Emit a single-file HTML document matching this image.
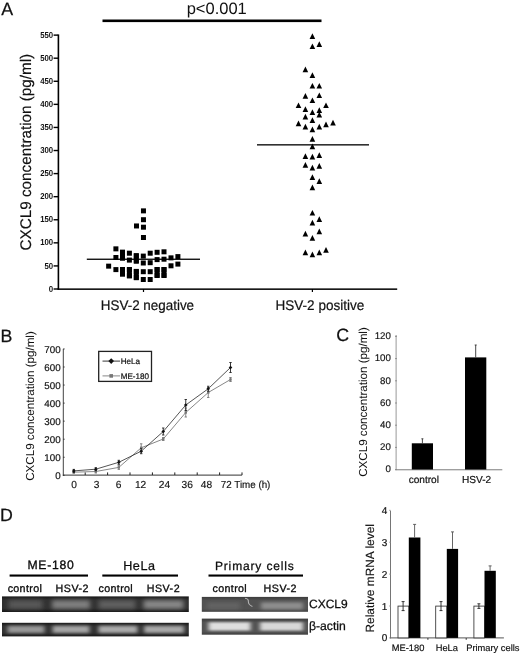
<!DOCTYPE html>
<html><head><meta charset="utf-8"><title>Figure</title>
<style>
html,body{margin:0;padding:0;background:#fff;}
svg{display:block;font-family:"Liberation Sans", sans-serif;fill:#111;text-rendering:geometricPrecision;}
</style></head><body>
<svg width="520" height="655" viewBox="0 0 520 655">
<rect width="520" height="655" fill="#fff"/>
<text x="1.2" y="14.8" font-size="17.8" stroke="#111" stroke-width="0.25">A</text>
<rect x="102.5" y="19.5" width="219" height="2.6" fill="#000"/>
<text x="216.7" y="13.9" font-size="16.5" text-anchor="middle">p&lt;0.001</text>
<rect x="57.6" y="34.4" width="1.6" height="255.3" fill="#000"/>
<rect x="57.6" y="288.4" width="339.6" height="1.5" fill="#000"/>
<rect x="53.6" y="288.30" width="4.5" height="1.4" fill="#000"/>
<text x="53.2" y="291.65" font-size="8.7" font-weight="bold" text-anchor="end" textLength="4.4" lengthAdjust="spacingAndGlyphs">0</text>
<rect x="53.6" y="265.22" width="4.5" height="1.4" fill="#000"/>
<text x="53.2" y="268.57" font-size="8.7" font-weight="bold" text-anchor="end" textLength="8.7" lengthAdjust="spacingAndGlyphs">50</text>
<rect x="53.6" y="242.14" width="4.5" height="1.4" fill="#000"/>
<text x="53.2" y="245.49" font-size="8.7" font-weight="bold" text-anchor="end" textLength="13" lengthAdjust="spacingAndGlyphs">100</text>
<rect x="53.6" y="219.06" width="4.5" height="1.4" fill="#000"/>
<text x="53.2" y="222.41" font-size="8.7" font-weight="bold" text-anchor="end" textLength="13" lengthAdjust="spacingAndGlyphs">150</text>
<rect x="53.6" y="195.98" width="4.5" height="1.4" fill="#000"/>
<text x="53.2" y="199.33" font-size="8.7" font-weight="bold" text-anchor="end" textLength="13" lengthAdjust="spacingAndGlyphs">200</text>
<rect x="53.6" y="172.90" width="4.5" height="1.4" fill="#000"/>
<text x="53.2" y="176.25" font-size="8.7" font-weight="bold" text-anchor="end" textLength="13" lengthAdjust="spacingAndGlyphs">250</text>
<rect x="53.6" y="149.82" width="4.5" height="1.4" fill="#000"/>
<text x="53.2" y="153.17" font-size="8.7" font-weight="bold" text-anchor="end" textLength="13" lengthAdjust="spacingAndGlyphs">300</text>
<rect x="53.6" y="126.74" width="4.5" height="1.4" fill="#000"/>
<text x="53.2" y="130.09" font-size="8.7" font-weight="bold" text-anchor="end" textLength="13" lengthAdjust="spacingAndGlyphs">350</text>
<rect x="53.6" y="103.66" width="4.5" height="1.4" fill="#000"/>
<text x="53.2" y="107.01" font-size="8.7" font-weight="bold" text-anchor="end" textLength="13" lengthAdjust="spacingAndGlyphs">400</text>
<rect x="53.6" y="80.58" width="4.5" height="1.4" fill="#000"/>
<text x="53.2" y="83.93" font-size="8.7" font-weight="bold" text-anchor="end" textLength="13" lengthAdjust="spacingAndGlyphs">450</text>
<rect x="53.6" y="57.50" width="4.5" height="1.4" fill="#000"/>
<text x="53.2" y="60.85" font-size="8.7" font-weight="bold" text-anchor="end" textLength="13" lengthAdjust="spacingAndGlyphs">500</text>
<rect x="53.6" y="34.42" width="4.5" height="1.4" fill="#000"/>
<text x="53.2" y="37.77" font-size="8.7" font-weight="bold" text-anchor="end" textLength="13" lengthAdjust="spacingAndGlyphs">550</text>
<rect x="142.9" y="289" width="1.2" height="3" fill="#000"/>
<rect x="311.79999999999995" y="289" width="1.2" height="3" fill="#000"/>
<text x="100.8" y="309.5" font-size="14" textLength="93.3" lengthAdjust="spacingAndGlyphs" stroke="#111" stroke-width="0.2">HSV-2 negative</text>
<text x="275.5" y="309.5" font-size="14" textLength="88.8" lengthAdjust="spacingAndGlyphs" stroke="#111" stroke-width="0.2">HSV-2 positive</text>
<text transform="translate(31.4,250.4) rotate(-90)" font-size="15.4" textLength="196.6" lengthAdjust="spacingAndGlyphs" stroke="#111" stroke-width="0.15">CXCL9 concentration (pg/ml)</text>
<rect x="86.8" y="258.6" width="113.2" height="1.3" fill="#000"/>
<rect x="257" y="144.2" width="112" height="1.3" fill="#000"/>
<rect x="106.15" y="263.65" width="5" height="5" fill="#000"/>
<rect x="113.40" y="246.35" width="5" height="5" fill="#000"/>
<rect x="113.40" y="255.00" width="5" height="5" fill="#000"/>
<rect x="113.40" y="267.10" width="5" height="5" fill="#000"/>
<rect x="120.00" y="249.80" width="5" height="5" fill="#000"/>
<rect x="120.00" y="255.35" width="5" height="5" fill="#000"/>
<rect x="120.00" y="267.10" width="5" height="5" fill="#000"/>
<rect x="120.00" y="271.40" width="5" height="5" fill="#000"/>
<rect x="126.90" y="250.70" width="5" height="5" fill="#000"/>
<rect x="126.90" y="257.60" width="5" height="5" fill="#000"/>
<rect x="126.90" y="267.10" width="5" height="5" fill="#000"/>
<rect x="126.90" y="273.20" width="5" height="5" fill="#000"/>
<rect x="133.80" y="253.30" width="5" height="5" fill="#000"/>
<rect x="133.80" y="258.50" width="5" height="5" fill="#000"/>
<rect x="133.80" y="269.20" width="5" height="5" fill="#000"/>
<rect x="133.80" y="274.90" width="5" height="5" fill="#000"/>
<rect x="140.80" y="253.60" width="5" height="5" fill="#000"/>
<rect x="140.80" y="260.50" width="5" height="5" fill="#000"/>
<rect x="140.80" y="269.20" width="5" height="5" fill="#000"/>
<rect x="140.80" y="277.00" width="5" height="5" fill="#000"/>
<rect x="147.70" y="250.70" width="5" height="5" fill="#000"/>
<rect x="147.70" y="260.20" width="5" height="5" fill="#000"/>
<rect x="147.70" y="269.20" width="5" height="5" fill="#000"/>
<rect x="147.70" y="277.00" width="5" height="5" fill="#000"/>
<rect x="154.60" y="249.80" width="5" height="5" fill="#000"/>
<rect x="154.60" y="257.10" width="5" height="5" fill="#000"/>
<rect x="154.60" y="267.10" width="5" height="5" fill="#000"/>
<rect x="154.60" y="272.70" width="5" height="5" fill="#000"/>
<rect x="161.50" y="249.30" width="5" height="5" fill="#000"/>
<rect x="161.50" y="256.70" width="5" height="5" fill="#000"/>
<rect x="161.50" y="267.10" width="5" height="5" fill="#000"/>
<rect x="161.50" y="272.70" width="5" height="5" fill="#000"/>
<rect x="168.50" y="255.35" width="5" height="5" fill="#000"/>
<rect x="168.50" y="263.30" width="5" height="5" fill="#000"/>
<rect x="175.40" y="254.10" width="5" height="5" fill="#000"/>
<rect x="175.40" y="261.60" width="5" height="5" fill="#000"/>
<rect x="140.96" y="208.37" width="5" height="5" fill="#000"/>
<rect x="140.96" y="217.20" width="5" height="5" fill="#000"/>
<rect x="140.96" y="224.70" width="5" height="5" fill="#000"/>
<rect x="140.96" y="235.00" width="5" height="5" fill="#000"/>
<rect x="134.00" y="223.46" width="5" height="5" fill="#000"/>
<rect x="120.00" y="267.00" width="5" height="9.50" fill="#000"/>
<rect x="126.90" y="267.00" width="5" height="11.30" fill="#000"/>
<rect x="133.80" y="268.90" width="5" height="11.30" fill="#000"/>
<rect x="154.60" y="267.00" width="5" height="11.00" fill="#000"/>
<rect x="161.50" y="267.00" width="5" height="11.00" fill="#000"/>
<rect x="120.00" y="249.80" width="5" height="10.80" fill="#000"/>
<rect x="133.80" y="253.30" width="5" height="10.20" fill="#000"/>
<path d="M312.4 33.3L315.2 39.0L309.6 39.0Z" fill="#000"/>
<path d="M312.4 43.4L315.2 49.1L309.6 49.1Z" fill="#000"/>
<path d="M319.3 41.2L322.1 46.9L316.5 46.9Z" fill="#000"/>
<path d="M305.4 66.6L308.2 72.3L302.6 72.3Z" fill="#000"/>
<path d="M312.4 72.2L315.2 77.9L309.6 77.9Z" fill="#000"/>
<path d="M312.4 82.9L315.2 88.6L309.6 88.6Z" fill="#000"/>
<path d="M319.3 82.9L322.1 88.6L316.5 88.6Z" fill="#000"/>
<path d="M305.4 93.0L308.2 98.7L302.6 98.7Z" fill="#000"/>
<path d="M319.3 92.4L322.1 98.1L316.5 98.1Z" fill="#000"/>
<path d="M312.4 97.4L315.2 103.1L309.6 103.1Z" fill="#000"/>
<path d="M298.5 102.4L301.3 108.1L295.7 108.1Z" fill="#000"/>
<path d="M326.0 102.4L328.8 108.1L323.2 108.1Z" fill="#000"/>
<path d="M305.4 106.3L308.2 112.0L302.6 112.0Z" fill="#000"/>
<path d="M319.3 107.3L322.1 113.0L316.5 113.0Z" fill="#000"/>
<path d="M312.4 109.3L315.2 115.0L309.6 115.0Z" fill="#000"/>
<path d="M319.3 111.7L322.1 117.4L316.5 117.4Z" fill="#000"/>
<path d="M305.4 113.7L308.2 119.4L302.6 119.4Z" fill="#000"/>
<path d="M312.4 117.2L315.2 122.9L309.6 122.9Z" fill="#000"/>
<path d="M298.5 120.6L301.3 126.3L295.7 126.3Z" fill="#000"/>
<path d="M333.0 119.8L335.8 125.5L330.2 125.5Z" fill="#000"/>
<path d="M326.0 121.6L328.8 127.3L323.2 127.3Z" fill="#000"/>
<path d="M305.4 123.8L308.2 129.5L302.6 129.5Z" fill="#000"/>
<path d="M319.3 123.8L322.1 129.5L316.5 129.5Z" fill="#000"/>
<path d="M312.4 126.6L315.2 132.3L309.6 132.3Z" fill="#000"/>
<path d="M312.4 136.1L315.2 141.8L309.6 141.8Z" fill="#000"/>
<path d="M312.4 143.6L315.2 149.3L309.6 149.3Z" fill="#000"/>
<path d="M305.4 153.2L308.2 158.9L302.6 158.9Z" fill="#000"/>
<path d="M312.4 153.8L315.2 159.5L309.6 159.5Z" fill="#000"/>
<path d="M319.3 152.2L322.1 157.9L316.5 157.9Z" fill="#000"/>
<path d="M305.4 162.1L308.2 167.8L302.6 167.8Z" fill="#000"/>
<path d="M312.4 164.7L315.2 170.4L309.6 170.4Z" fill="#000"/>
<path d="M319.3 163.1L322.1 168.8L316.5 168.8Z" fill="#000"/>
<path d="M312.4 174.2L315.2 179.9L309.6 179.9Z" fill="#000"/>
<path d="M319.3 178.2L322.1 183.9L316.5 183.9Z" fill="#000"/>
<path d="M312.4 184.5L315.2 190.2L309.6 190.2Z" fill="#000"/>
<path d="M312.4 209.9L315.2 215.6L309.6 215.6Z" fill="#000"/>
<path d="M319.3 216.3L322.1 222.0L316.5 222.0Z" fill="#000"/>
<path d="M312.4 219.7L315.2 225.4L309.6 225.4Z" fill="#000"/>
<path d="M319.3 228.6L322.1 234.3L316.5 234.3Z" fill="#000"/>
<path d="M305.4 230.8L308.2 236.5L302.6 236.5Z" fill="#000"/>
<path d="M312.4 235.1L315.2 240.8L309.6 240.8Z" fill="#000"/>
<path d="M305.4 249.6L308.2 255.3L302.6 255.3Z" fill="#000"/>
<path d="M312.4 251.6L315.2 257.3L309.6 257.3Z" fill="#000"/>
<path d="M319.3 249.6L322.1 255.3L316.5 255.3Z" fill="#000"/>
<path d="M326.0 247.0L328.8 252.7L323.2 252.7Z" fill="#000"/>
<text x="0.4" y="341.9" font-size="17.8" stroke="#111" stroke-width="0.25">B</text>
<text transform="translate(33.6,406) rotate(-90)" font-size="11.6" text-anchor="middle">CXCL9 concentration (pg/ml)</text>
<rect x="62.8" y="348.9" width="1" height="127" fill="#444"/>
<rect x="62.8" y="474.6" width="179.3" height="1" fill="#333"/>
<rect x="63.2" y="474.80" width="1.4" height="1" fill="#333"/>
<text x="60.6" y="478.90" font-size="9.8" text-anchor="end" stroke="#111" stroke-width="0.18">0</text>
<rect x="63.2" y="456.75" width="1.4" height="1" fill="#333"/>
<text x="60.6" y="460.85" font-size="9.8" text-anchor="end" stroke="#111" stroke-width="0.18">100</text>
<rect x="63.2" y="438.70" width="1.4" height="1" fill="#333"/>
<text x="60.6" y="442.80" font-size="9.8" text-anchor="end" stroke="#111" stroke-width="0.18">200</text>
<rect x="63.2" y="420.65" width="1.4" height="1" fill="#333"/>
<text x="60.6" y="424.75" font-size="9.8" text-anchor="end" stroke="#111" stroke-width="0.18">300</text>
<rect x="63.2" y="402.60" width="1.4" height="1" fill="#333"/>
<text x="60.6" y="406.70" font-size="9.8" text-anchor="end" stroke="#111" stroke-width="0.18">400</text>
<rect x="63.2" y="384.55" width="1.4" height="1" fill="#333"/>
<text x="60.6" y="388.65" font-size="9.8" text-anchor="end" stroke="#111" stroke-width="0.18">500</text>
<rect x="63.2" y="366.50" width="1.4" height="1" fill="#333"/>
<text x="60.6" y="370.60" font-size="9.8" text-anchor="end" stroke="#111" stroke-width="0.18">600</text>
<rect x="63.2" y="348.45" width="1.4" height="1" fill="#333"/>
<text x="60.6" y="352.55" font-size="9.8" text-anchor="end" stroke="#111" stroke-width="0.18">700</text>
<rect x="84.70" y="472.4" width="1" height="2.6" fill="#222"/>
<rect x="107.10" y="472.4" width="1" height="2.6" fill="#222"/>
<rect x="129.50" y="472.4" width="1" height="2.6" fill="#222"/>
<rect x="151.90" y="472.4" width="1" height="2.6" fill="#222"/>
<rect x="174.30" y="472.4" width="1" height="2.6" fill="#222"/>
<rect x="196.70" y="472.4" width="1" height="2.6" fill="#222"/>
<rect x="219.10" y="472.4" width="1" height="2.6" fill="#222"/>
<rect x="241.50" y="472.4" width="1" height="2.6" fill="#222"/>
<text x="74.1" y="488.2" font-size="10.2" text-anchor="middle" stroke="#111" stroke-width="0.15">0</text>
<text x="96.5" y="488.2" font-size="10.2" text-anchor="middle" stroke="#111" stroke-width="0.15">3</text>
<text x="118.5" y="488.2" font-size="10.2" text-anchor="middle" stroke="#111" stroke-width="0.15">6</text>
<text x="140.6" y="488.2" font-size="10.2" text-anchor="middle" stroke="#111" stroke-width="0.15">12</text>
<text x="164.5" y="488.2" font-size="10.2" text-anchor="middle" stroke="#111" stroke-width="0.15">24</text>
<text x="187.2" y="488.2" font-size="10.2" text-anchor="middle" stroke="#111" stroke-width="0.15">36</text>
<text x="206.5" y="488.2" font-size="10.2" text-anchor="middle" stroke="#111" stroke-width="0.15">48</text>
<text x="220.8" y="488.2" font-size="10.2" textLength="49.6" lengthAdjust="spacingAndGlyphs" stroke="#111" stroke-width="0.15">72 Time (h)</text>
<rect x="98.7" y="351.4" width="52.8" height="30" fill="#fff" stroke="#222" stroke-width="1.3"/>
<path d="M102.5 361.1H120" stroke="#222" stroke-width="0.9"/>
<path d="M111.2 358.3l2.8 2.8l-2.8 2.8l-2.8-2.8z" fill="#111"/>
<text x="120.7" y="364.1" font-size="8.1" stroke="#111" stroke-width="0.2">HeLa</text>
<path d="M102.5 375.9H120" stroke="#6a6a6a" stroke-width="0.8"/>
<rect x="109.4" y="374.1" width="3.6" height="3.6" fill="#777"/>
<text x="120.7" y="378.9" font-size="8.1" stroke="#111" stroke-width="0.2">ME-180</text>
<polyline fill="none" stroke="#686868" stroke-width="0.8" points="73.8,472.2 95.8,471.5 118.8,467.4 141.2,447.8 163.25,439 185.75,412.5 208.25,392.5 230.5,379.5"/>
<polyline fill="none" stroke="#2a2a2a" stroke-width="0.8" points="73.8,470.9 95.8,469.2 118.8,462.3 141.2,451.2 163.25,431.5 185.75,405 208.25,388.75 230.5,367.5"/>
<path d="M73.8 471.2V473.2M72.6 471.2h2.4M72.6 473.2h2.4" stroke="#777" stroke-width="0.9" fill="none"/>
<rect x="72.6" y="471.0" width="2.4" height="2.4" fill="#777"/>
<path d="M95.8 470.0V473.0M94.6 470.0h2.4M94.6 473.0h2.4" stroke="#777" stroke-width="0.9" fill="none"/>
<rect x="94.6" y="470.3" width="2.4" height="2.4" fill="#777"/>
<path d="M118.8 465.4V469.4M117.6 465.4h2.4M117.6 469.4h2.4" stroke="#777" stroke-width="0.9" fill="none"/>
<rect x="117.6" y="466.2" width="2.4" height="2.4" fill="#777"/>
<path d="M141.2 443.8V451.8M140.0 443.8h2.4M140.0 451.8h2.4" stroke="#777" stroke-width="0.9" fill="none"/>
<rect x="140.0" y="446.6" width="2.4" height="2.4" fill="#777"/>
<path d="M163.25 437.5V440.5M162.05 437.5h2.4M162.05 440.5h2.4" stroke="#777" stroke-width="0.9" fill="none"/>
<rect x="162.05" y="437.8" width="2.4" height="2.4" fill="#777"/>
<path d="M185.75 408.0V417.0M184.55 408.0h2.4M184.55 417.0h2.4" stroke="#777" stroke-width="0.9" fill="none"/>
<rect x="184.55" y="411.3" width="2.4" height="2.4" fill="#777"/>
<path d="M208.25 387.5V397.5M207.05 387.5h2.4M207.05 397.5h2.4" stroke="#777" stroke-width="0.9" fill="none"/>
<rect x="207.05" y="391.3" width="2.4" height="2.4" fill="#777"/>
<path d="M230.5 377.5V381.5M229.3 377.5h2.4M229.3 381.5h2.4" stroke="#777" stroke-width="0.9" fill="none"/>
<rect x="229.3" y="378.3" width="2.4" height="2.4" fill="#777"/>
<path d="M73.8 469.4V472.4M72.6 469.4h2.4M72.6 472.4h2.4" stroke="#222" stroke-width="0.9" fill="none"/>
<path d="M73.8 469.09999999999997l1.8 1.8l-1.8 1.8l-1.8-1.8z" fill="#111"/>
<path d="M95.8 467.7V470.7M94.6 467.7h2.4M94.6 470.7h2.4" stroke="#222" stroke-width="0.9" fill="none"/>
<path d="M95.8 467.4l1.8 1.8l-1.8 1.8l-1.8-1.8z" fill="#111"/>
<path d="M118.8 460.3V464.3M117.6 460.3h2.4M117.6 464.3h2.4" stroke="#222" stroke-width="0.9" fill="none"/>
<path d="M118.8 460.5l1.8 1.8l-1.8 1.8l-1.8-1.8z" fill="#111"/>
<path d="M141.2 448.7V453.7M140.0 448.7h2.4M140.0 453.7h2.4" stroke="#222" stroke-width="0.9" fill="none"/>
<path d="M141.2 449.4l1.8 1.8l-1.8 1.8l-1.8-1.8z" fill="#111"/>
<path d="M163.25 428.0V435.0M162.05 428.0h2.4M162.05 435.0h2.4" stroke="#222" stroke-width="0.9" fill="none"/>
<path d="M163.25 429.7l1.8 1.8l-1.8 1.8l-1.8-1.8z" fill="#111"/>
<path d="M185.75 399.5V410.5M184.55 399.5h2.4M184.55 410.5h2.4" stroke="#222" stroke-width="0.9" fill="none"/>
<path d="M185.75 403.2l1.8 1.8l-1.8 1.8l-1.8-1.8z" fill="#111"/>
<path d="M208.25 386.25V391.25M207.05 386.25h2.4M207.05 391.25h2.4" stroke="#222" stroke-width="0.9" fill="none"/>
<path d="M208.25 386.95l1.8 1.8l-1.8 1.8l-1.8-1.8z" fill="#111"/>
<path d="M230.5 362.5V372.5M229.3 362.5h2.4M229.3 372.5h2.4" stroke="#222" stroke-width="0.9" fill="none"/>
<path d="M230.5 365.7l1.8 1.8l-1.8 1.8l-1.8-1.8z" fill="#111"/>
<text x="336.3" y="341.1" font-size="17.8" stroke="#111" stroke-width="0.25">C</text>
<text transform="translate(367.3,402) rotate(-90)" font-size="11.6" text-anchor="middle">CXCL9 concentration (pg/ml)</text>
<rect x="395.6" y="335" width="1" height="135" fill="#999"/>
<rect x="395.3" y="469.2" width="107" height="1.1" fill="#888"/>
<rect x="395.1" y="469.10" width="1.8" height="1" fill="#8a8a8a"/>
<text x="390.9" y="472.30" font-size="9.7" text-anchor="end" stroke="#111" stroke-width="0.15">0</text>
<rect x="395.1" y="446.90" width="1.8" height="1" fill="#8a8a8a"/>
<text x="390.9" y="450.10" font-size="9.7" text-anchor="end" stroke="#111" stroke-width="0.15">20</text>
<rect x="395.1" y="424.70" width="1.8" height="1" fill="#8a8a8a"/>
<text x="390.9" y="427.90" font-size="9.7" text-anchor="end" stroke="#111" stroke-width="0.15">40</text>
<rect x="395.1" y="402.50" width="1.8" height="1" fill="#8a8a8a"/>
<text x="390.9" y="405.70" font-size="9.7" text-anchor="end" stroke="#111" stroke-width="0.15">60</text>
<rect x="395.1" y="380.30" width="1.8" height="1" fill="#8a8a8a"/>
<text x="390.9" y="383.50" font-size="9.7" text-anchor="end" stroke="#111" stroke-width="0.15">80</text>
<rect x="395.1" y="358.10" width="1.8" height="1" fill="#8a8a8a"/>
<text x="390.9" y="361.30" font-size="9.7" text-anchor="end" stroke="#111" stroke-width="0.15">100</text>
<rect x="395.1" y="335.90" width="1.8" height="1" fill="#8a8a8a"/>
<text x="390.9" y="339.10" font-size="9.7" text-anchor="end" stroke="#111" stroke-width="0.15">120</text>
<rect x="411.8" y="443.3" width="21.2" height="26.2" fill="#000"/>
<rect x="465" y="357.4" width="21.3" height="112.1" fill="#000"/>
<path d="M422.4 443.5V438.8M421.4 438.8h2" stroke="#333" stroke-width="0.9"/>
<path d="M475.7 357.5V345M474.7 345h2" stroke="#333" stroke-width="0.9"/>
<text x="423.8" y="482.5" font-size="10.1" text-anchor="middle" stroke="#111" stroke-width="0.2">control</text>
<text x="476.6" y="482.5" font-size="10.1" text-anchor="middle" stroke="#111" stroke-width="0.2">HSV-2</text>
<text x="0" y="521.3" font-size="17.8" stroke="#111" stroke-width="0.25">D</text>
<text x="51" y="569.3" font-size="12.2" letter-spacing="0.75" text-anchor="middle" stroke="#000" stroke-width="0.3">ME-180</text>
<text x="139.4" y="569.6" font-size="12.6" letter-spacing="0.6" text-anchor="middle" stroke="#000" stroke-width="0.25">HeLa</text>
<text x="254.8" y="569.9" font-size="12" letter-spacing="0.85" text-anchor="middle" stroke="#000" stroke-width="0.25">Primary cells</text>
<rect x="9.6" y="574.5" width="78.4" height="2.1" fill="#000"/>
<rect x="102.3" y="574.5" width="75.7" height="2.1" fill="#000"/>
<rect x="208.5" y="574.5" width="94.5" height="2.1" fill="#000"/>
<text x="24.9" y="591.9" font-size="10.7" letter-spacing="0.35" text-anchor="middle" stroke="#000" stroke-width="0.3">control</text>
<text x="115.8" y="591.9" font-size="10.7" letter-spacing="0.35" text-anchor="middle" stroke="#000" stroke-width="0.3">control</text>
<text x="229.8" y="591.9" font-size="10.7" letter-spacing="0.35" text-anchor="middle" stroke="#000" stroke-width="0.3">control</text>
<text x="72.3" y="591.9" font-size="10.7" letter-spacing="0.5" text-anchor="middle" stroke="#000" stroke-width="0.3">HSV-2</text>
<text x="163.4" y="591.9" font-size="10.7" letter-spacing="0.5" text-anchor="middle" stroke="#000" stroke-width="0.3">HSV-2</text>
<text x="280.3" y="591.9" font-size="10.7" letter-spacing="0.5" text-anchor="middle" stroke="#000" stroke-width="0.3">HSV-2</text>
<text x="309" y="608.3" font-size="12" stroke="#000" stroke-width="0.25">CXCL9</text>
<text x="309" y="629.6" font-size="12.2" stroke="#000" stroke-width="0.25">β-actin</text>
<defs><filter id="b1" x="-20%" y="-60%" width="140%" height="220%"><feGaussianBlur stdDeviation="2.6 1.9"/></filter><filter id="b2" x="-20%" y="-60%" width="140%" height="220%"><feGaussianBlur stdDeviation="2.3 1.5"/></filter><filter id="b3" x="-20%" y="-60%" width="140%" height="220%"><feGaussianBlur stdDeviation="2 1.3"/></filter><linearGradient id="g1" x1="0" y1="0" x2="0" y2="1"><stop offset="0" stop-color="#161616"/><stop offset="0.25" stop-color="#303030"/><stop offset="0.75" stop-color="#303030"/><stop offset="1" stop-color="#161616"/></linearGradient><linearGradient id="g3" x1="0" y1="0" x2="0" y2="1"><stop offset="0" stop-color="#3c3c3c"/><stop offset="0.25" stop-color="#525252"/><stop offset="0.8" stop-color="#525252"/><stop offset="1" stop-color="#404040"/></linearGradient><clipPath id="c1"><rect x="2" y="596.4" width="186.8" height="15.6"/></clipPath><clipPath id="c2"><rect x="2" y="622.8" width="186.8" height="13.6"/></clipPath><clipPath id="c3"><rect x="201.8" y="596.9" width="106.2" height="14.9"/></clipPath><clipPath id="c4"><rect x="201.8" y="618.6" width="106.2" height="16.1"/></clipPath></defs>
<rect x="2" y="596.4" width="186.8" height="15.6" fill="url(#g1)"/>
<g clip-path="url(#c1)"><g filter="url(#b1)">
<rect x="8.5" y="600.2" width="34" height="8.6" fill="#585858"/>
<rect x="52" y="600.2" width="38" height="8.6" fill="#808080"/>
<rect x="98.5" y="600.2" width="37" height="8.6" fill="#606060"/>
<rect x="143.5" y="600.2" width="40" height="8.6" fill="#888888"/>
</g></g>
<rect x="2" y="622.8" width="186.8" height="13.6" fill="url(#g1)"/>
<g clip-path="url(#c2)"><g filter="url(#b2)">
<rect x="7.5" y="625.8" width="37" height="7.2" fill="#989898"/>
<rect x="52.5" y="625.8" width="37" height="7.2" fill="#a4a4a4"/>
<rect x="98.5" y="625.8" width="39" height="7.2" fill="#aaaaaa"/>
<rect x="144" y="625.8" width="40" height="7.2" fill="#a8a8a8"/>
</g></g>
<rect x="201.8" y="596.9" width="106.2" height="14.9" fill="url(#g3)"/>
<g clip-path="url(#c3)"><g filter="url(#b2)">
<rect x="207" y="602.3" width="33" height="7" fill="#626262"/>
<rect x="261" y="602.3" width="42" height="7" fill="#8e8e8e"/>
</g></g>
<path d="M245 598.2q3.6 0.3 3.4 3.4t4 4.8" stroke="#b4b4b4" stroke-width="1.1" fill="none"/>
<rect x="201.8" y="618.6" width="106.2" height="16.1" fill="url(#g3)"/>
<g clip-path="url(#c4)"><g filter="url(#b3)">
<rect x="208.5" y="622.2" width="42" height="8.4" fill="#dedede"/>
<rect x="260" y="622.2" width="43" height="8.4" fill="#d8d8d8"/>
</g></g>
<text transform="translate(374.3,578.3) rotate(-90)" font-size="11.9" stroke="#111" stroke-width="0.12" text-anchor="middle">Relative mRNA level</text>
<rect x="390.1" y="510.6" width="0.9" height="127.8" fill="#666"/>
<rect x="390.1" y="637.4" width="113.8" height="1" fill="#555"/>
<rect x="389.2" y="637.40" width="1.2" height="1" fill="#999"/>
<text x="387.3" y="641.40" font-size="10" text-anchor="end" stroke="#111" stroke-width="0.2">0</text>
<rect x="389.2" y="605.50" width="1.2" height="1" fill="#999"/>
<text x="387.3" y="609.50" font-size="10" text-anchor="end" stroke="#111" stroke-width="0.2">1</text>
<rect x="389.2" y="573.60" width="1.2" height="1" fill="#999"/>
<text x="387.3" y="577.60" font-size="10" text-anchor="end" stroke="#111" stroke-width="0.2">2</text>
<rect x="389.2" y="541.70" width="1.2" height="1" fill="#999"/>
<text x="387.3" y="545.70" font-size="10" text-anchor="end" stroke="#111" stroke-width="0.2">3</text>
<rect x="389.2" y="509.80" width="1.2" height="1" fill="#999"/>
<text x="387.3" y="513.80" font-size="10" text-anchor="end" stroke="#111" stroke-width="0.2">4</text>
<rect x="427.4" y="638" width="1" height="1.8" fill="#333"/>
<rect x="465.7" y="638" width="1" height="1.8" fill="#333"/>
<rect x="398.0" y="606.1" width="10.8" height="31.8" fill="#fff" stroke="#333" stroke-width="0.85"/>
<rect x="408.8" y="537.5" width="11.6" height="100.4" fill="#000"/>
<path d="M403.1 601.6V610.6M401.6 601.6h3M401.6 610.6h3" stroke="#222" stroke-width="0.9" fill="none"/>
<path d="M414.6 537.5V524.4M413.1 524.4h3" stroke="#555" stroke-width="0.9" fill="none"/>
<rect x="435.7" y="606.1" width="11.1" height="31.8" fill="#fff" stroke="#333" stroke-width="0.85"/>
<rect x="446.8" y="548.9" width="11.3" height="89.0" fill="#000"/>
<path d="M441.0 601.6V610.6M439.5 601.6h3M439.5 610.6h3" stroke="#222" stroke-width="0.9" fill="none"/>
<path d="M452.5 548.9V531.9M451.0 531.9h3" stroke="#555" stroke-width="0.9" fill="none"/>
<rect x="473.9" y="606.1" width="10.6" height="31.8" fill="#fff" stroke="#333" stroke-width="0.85"/>
<rect x="484.5" y="570.8" width="11.3" height="67.1" fill="#000"/>
<path d="M478.9 603.8000000000001V608.4M477.4 603.8000000000001h3M477.4 608.4h3" stroke="#222" stroke-width="0.9" fill="none"/>
<path d="M490.1 570.8V565.9M488.6 565.9h3" stroke="#555" stroke-width="0.9" fill="none"/>
<text x="391.8" y="650.6" font-size="9.3" stroke="#111" stroke-width="0.18">ME-180</text>
<text x="435.7" y="650.6" font-size="9.3" stroke="#111" stroke-width="0.18">HeLa</text>
<text x="466.2" y="650.6" font-size="9.3" textLength="53.3" lengthAdjust="spacingAndGlyphs" stroke="#111" stroke-width="0.18">Primary cells</text>
</svg>
</body></html>
